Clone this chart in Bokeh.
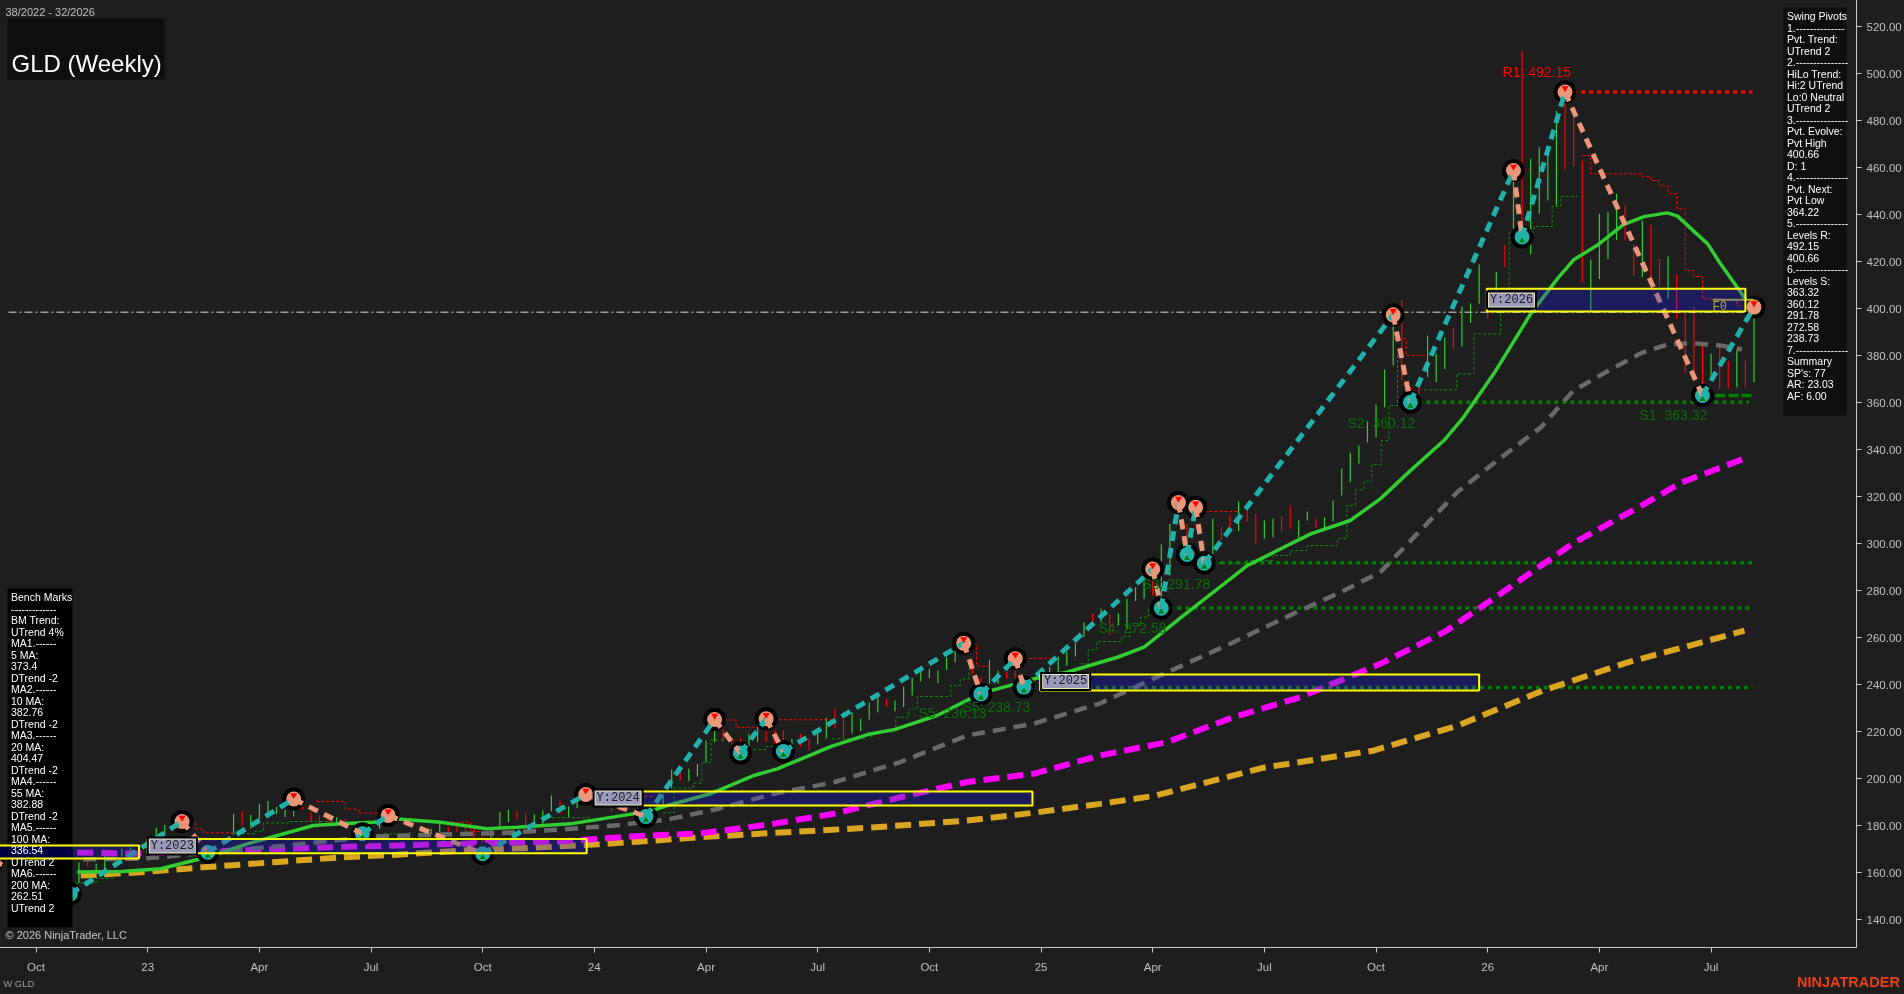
from bokeh.embed import file_html
from bokeh.models import FixedTicker, Label, LinearAxis, NumeralTickFormatter, Range1d
from bokeh.plotting import figure
from bokeh.resources import INLINE

# weekly bars, x is the week number counted from the Oct 2022 tick
up_week = [5, 7, 8, 10, 11, 12, 14, 15, 23, 25, 26, 27, 28, 29, 30, 35, 40, 46, 47, 53, 54, 55, 58, 59, 60, 62, 63,
           73, 74, 76, 77, 78, 79, 83, 84, 88, 91, 92, 95, 96, 97, 98, 100, 101, 102, 103, 104, 105, 106, 107,
           111, 112, 116, 117, 118, 119, 120, 121, 122, 124, 126, 127, 128, 129, 131, 132, 137, 140, 143, 144,
           147, 148, 150, 151, 152, 153, 154, 155, 156, 157, 158, 162, 163, 164, 166, 167, 168, 170, 172, 174,
           175, 176, 177, 181, 182, 183, 184, 187, 190, 195, 198, 200]
up_low = [155.5, 161.1, 158, 166.8, 167.5, 168.7, 175.7, 176.5, 176.2, 178.6, 182.8, 183.5, 185, 183.5, 183.8, 180, 178.6,
          176.5, 177.2, 174.3, 178.6, 181.4, 180, 180.7, 186, 183.5, 187.5,
          187.8, 195.9, 198.9, 200.8, 206.9, 215.5, 213.3, 215.5, 212.6, 214.5, 216.9, 219.3, 220.1, 225, 228.2,
          228.6, 230.4, 235.3, 241.4, 242.8, 240.6, 246.2, 249.5,
          240.3, 240.3, 237.4, 241.7, 244.5, 244.5, 248, 251.9, 260.2, 266.5, 265.1, 263.7, 275.5, 276.5, 274.3, 286.4,
          295.6, 305.2, 302, 302.7, 302.4, 309.8, 305.5, 309.5, 320.4, 326.1, 333.9, 343, 345.2, 358, 375.7,
          370.8, 368.6, 374.3, 383.8, 393.8, 402, 403.4, 433.9, 423, 440.3, 446, 443.8, 399, 412.6, 421.1, 429, 413.3,
          404.1, 369.4, 366.5, 368.6]
up_high = [164.4, 163.7, 167.9, 170.1, 170.6, 171.5, 179, 180.3, 185, 184.5, 189.2, 190.4, 188, 186.7, 186.4, 183.5, 182.1,
           178.6, 181, 179.3, 185.7, 186.7, 184.7, 186.4, 192.8, 188.1, 190.9,
           193.5, 203.7, 204.1, 206.2, 216.2, 220.4, 219, 222.5, 216.9, 221.1, 226, 228.2, 225.4, 232.5, 234.6,
           233.2, 239.1, 242.8, 246.7, 246.7, 246, 251.6, 254.5,
           250.5, 245.9, 241.7, 245.9, 247.4, 251.9, 253.8, 257.6, 266.5, 272.2, 270.3, 276.5, 281.4, 284.3, 299.6, 308.4,
           310.5, 317.9, 309.8, 310.5, 309.8, 313.6, 311.2, 318.3, 331.8, 338.6, 341.7, 352, 359.1, 373.9, 396.3,
           388.5, 380.7, 387.8, 400.8, 402.2, 418.7, 415.5, 457.3, 463.7, 468.6, 468.6, 484.2, 420.7, 440.3, 441, 448.8,
           437.4, 422.1, 380.7, 382.1, 397.7]

down_week = [6, 24, 31, 32, 33, 34, 36, 48, 49, 50, 51, 52, 56, 57, 61, 66, 67, 68, 71,
             75, 80, 81, 82, 85, 86, 87, 89, 90, 93, 94, 99, 109, 110, 113, 114, 115, 123, 125, 130, 134,
             138, 139, 141, 142, 145, 146, 149, 159, 160, 161, 165, 169, 171, 173, 178, 179, 180,
             185, 186, 188, 189, 191, 192, 193, 194, 196, 197, 199]
down_low = [162.6, 180, 186.7, 181.4, 180.7, 181, 180.7, 177.2, 177.2, 177.2, 172.9, 170.8, 182.4, 180, 185, 189.2, 185.7, 186.2, 182.8,
            199.1, 215.5, 214.7, 212.6, 215.7, 214.7, 214, 213.6, 211.9, 221.6, 217.3, 230.6, 244.5, 240.3, 242.4, 242.4, 237.4,
            265.1, 261.3, 277.9, 299.9,
            301.3, 305.8, 309.1, 299.9, 305.2, 306.2, 306.7, 369.4, 360, 363, 382.8, 395.6, 417.6, 434.6, 459, 460.4, 411.2,
            429, 414, 411.2, 409.8, 395.6, 372.2, 371.5, 366.5, 365.8, 365.8, 366.5]
down_high = [165.8, 186.1, 188, 185.7, 184.3, 183.5, 182.8, 179.6, 179.6, 179.3, 179, 175.3, 186.4, 185, 190.6, 191.3, 187.8, 188, 185,
             202.7, 221.1, 216.9, 217.2, 220.4, 220.4, 220.4, 219, 216.9, 229.6, 225.4, 233.9, 250.2, 243.1, 245.3, 246, 240.3,
             270.3, 270.1, 284.3, 308.4,
             307.2, 312.3, 313.8, 312.6, 311.5, 316.2, 310.5, 403.4, 366.5, 366.5, 391.8, 398.8, 427.2, 509.8, 492, 481.4, 463,
             443.8, 427.5, 435.7, 421.1, 414.5, 398.4, 400.6, 385, 383.5, 377.9, 377.9]

# swing pivots, alternating high and low
pivot_week = [-5, 4, 17, 20, 30, 38, 41, 52, 64, 71, 79, 82, 85, 87, 108, 110, 114, 115, 130, 131, 133, 134, 135, 136,
              158, 160, 172, 173, 178, 194, 200]
pivot_price = [165, 150.9, 181.7, 168.6, 191.3, 176.5, 184.3, 168, 193.2, 183.8, 225.1, 210.8, 225.4, 211.5, 257.6, 236,
               251, 238.9, 289.1, 272.5, 317.4, 295.3, 315.4, 291.6, 397.3, 360.1, 458.7, 430.4, 492.1, 363, 400.6]

# moving averages
ma20_week = [4.8, 10, 14.5, 20, 24.6, 32.3, 35.4, 39.3, 42.2, 47.1, 52.5, 56, 62.2, 68.4, 71.5, 73.5, 78.5, 83.6, 86.3, 90.5,
             92.5, 96.8, 100, 104.9, 110, 116.9, 120, 125.9, 129, 133.6, 138.3, 141, 144.5, 148.4, 153, 156.5, 160, 163.9,
             166.2, 169.7, 174, 177.1, 179, 181.7, 184.8, 187.2, 189.9, 191.1, 194.6, 196.1, 199]
ma20_value = [160.2, 160.4, 161.6, 166.6, 172.2, 180, 180.7, 181.4, 182.8, 181.4, 178.6, 179.3, 180.7, 184.3, 186.1, 188.5, 193.5,
              201.3, 204.1, 210.5, 213.6, 218.7, 220.9, 226.8, 236.2, 243.1, 245.2, 251.6, 255.9, 269.4, 282.8, 290.6, 297, 304.1,
              309.8, 319, 331, 343.8, 353.8, 372.2, 397.7, 412.6, 420.7, 426.8, 435.7, 439.1, 440.7, 439.3, 427.5, 419, 404.1]

ma55_week = [5.5, 12.5, 29.2, 34.7, 39.7, 47.1, 53.7, 60.7, 67.3, 70.8, 73.5, 79.3, 85.9, 92.9, 100.6, 108.4, 116.1, 123.9,
             131.7, 139.4, 147.2, 151.9, 156.5, 165.5, 170, 175.2, 179, 183.1, 186.8, 189.9, 193, 196.1, 198.6]
ma55_value = [165.6, 165.9, 171.5, 173.6, 175.3, 176.2, 176.7, 178.2, 180, 181.4, 182.5, 187, 193.5, 198.4, 207, 218.3, 223.3, 232,
              245.2, 258, 271.5, 279.3, 287.8, 322, 335, 349.5, 365.1, 373.6, 380.9, 384.7, 385.2, 384.3, 382.6]

ma100_week = [4.8, 11.8, 23.4, 34.6, 42, 51.7, 61.4, 69.2, 77.4, 85.1, 92.9, 100.6, 108.4, 116.1, 123.9, 131.7, 139.4, 147.2,
              156.5, 164, 171.2, 178.9, 186.7, 191.6, 198.9]
ma100_value = [168.5, 168, 169.4, 170.8, 171.5, 172.5, 173.3, 175.3, 176.7, 180.3, 185, 192, 198.5, 202, 209.8, 215.5, 226.1,
               234.6, 248.8, 262.5, 280.4, 300, 315.7, 326, 336.2]

ma200_week = [5.2, 12.2, 19.9, 27.7, 35, 42, 49.8, 57.6, 65.5, 70.4, 77.4, 85.1, 96.8, 108.4, 116.1, 123.9, 130.2, 142.9, 155.6,
              165.5, 175.4, 185.3, 198.9]
ma200_value = [158.7, 160.1, 162.3, 164.4, 166.3, 167.6, 169.4, 170.5, 172, 173.2, 175, 176.7, 179, 182.1, 185.4, 189.2, 192.6, 204.6,
               211.8, 222.5, 237.4, 249.4, 262.9]

# support and resistance levels
level_price = [492.15, 360.12, 291.78, 272.58, 238.73]
level_start = [178, 160, 136, 131, 115]
level_end = [199.8, 199.4, 199.8, 199.8, 199.8]
level_color = ["#FF0000", "#008000", "#008000", "#008000", "#008000"]

red_steps = [
    ([17.5, 18.6, 19.5, 23], [181.4, 178.6, 176.9, 176.9]),
    ([32.6, 36, 37.5, 40.5, 42], [190.3, 187, 185.3, 184, 184]),
    ([48.3, 50.6, 52], [181.4, 177.4, 177.4]),
    ([65, 72], [192.3, 192.3]),
    ([79.5, 81.5, 84], [224.9, 221.8, 221.8]),
    ([86.5, 93], [225, 225]),
    ([108, 109.5, 111], [257, 247.8, 247.8]),
    ([115, 119], [251.1, 251.1]),
    ([130, 132], [287.2, 287.2]),
    ([133, 135], [314.4, 314.4]),
    ([136, 140], [313.6, 313.6]),
    ([158, 159.5, 162], [387.1, 380, 380]),
    ([172, 174], [459, 459]),
    ([180, 181, 187, 188, 189, 190, 191, 192, 193, 194, 196, 198, 200],
     [465.1, 457.3, 456.2, 454.5, 452.2, 448.8, 442.4, 416.2, 413.6, 404.1, 403.5, 401.3, 399.9]),
]
green_steps = [
    ([4.6, 7, 9], [155.5, 157.5, 158.3]),
    ([22.8, 25.5, 26.5, 29.4, 34.6], [176.5, 177.6, 181.1, 181.7, 181.7]),
    ([40.5, 43.5], [176.5, 177.3]),
    ([59.5, 64.5], [183.3, 183.3]),
    ([73, 74.3, 76.5, 77.5, 78.6, 80], [185.4, 195.9, 198, 206.9, 216.4, 216.4]),
    ([83.5, 85, 87], [212.3, 213.6, 213.6]),
    ([92.7, 96.5, 97.5, 100.1, 101.6, 102.6, 105.7, 106.5, 107.6, 108.6],
     [216.9, 218, 219.7, 226.1, 229.6, 234.9, 234.9, 239.6, 242.4, 246.7]),
    ([121.6, 122.5, 123.5, 126.4, 127.4, 128.6, 129.5, 130.5], [248.8, 254.8, 258.3, 260.4, 265.1, 268.6, 272.2, 275.7]),
    ([137, 141, 144, 146, 148, 151.5, 152.6, 153.6, 154.6, 155.5, 156.6, 157.5, 158.5],
     [291.6, 292.8, 294.9, 297, 299.1, 302.1, 316.2, 322.9, 326.5, 333.6, 343.8, 358.7, 381]),
    ([161.6, 165.4, 167.4, 170.5, 171.5, 174.4, 176.5, 177.5, 179.4], [365.4, 372.2, 389.2, 398.4, 432.5, 434.9, 443.5, 447.7, 447.7]),
]

# yearly boxes
box_left = [-4.4, 13, 65, 116.9, 168.9]
box_right = [12, 64.1, 116, 168, 199]
box_bottom = [166, 168.2, 188.5, 237.4, 398.7]
box_top = [171.5, 174.3, 194.5, 244.3, 408.4]
year_text = ["Y:2023", "Y:2024", "Y:2025", "Y:2026"]
year_week = [12.9, 64.8, 116.9, 168.8]
year_price = [171.3, 191.7, 241.3, 403.6]

level_labels = ["R1: 492.15", "S1: 363.32", "S2: 360.12", "S3: 291.78", "S4: 272.58", "S5: 238.73", "S5: 236.13"]
level_label_x = [1502, 1639, 1347, 1142, 1098, 962, 918]
level_label_y = [71, 414, 422, 583, 627, 706, 712]

tick_week = [0, 13, 26, 39, 52, 65, 78, 91, 104, 117, 130, 143, 156, 169, 182, 195]
tick_text = ["Oct", "23", "Apr", "Jul", "Oct", "24", "Apr", "Jul", "Oct", "25", "Apr", "Jul", "Oct", "26", "Apr", "Jul"]
price_ticks = list(range(140, 521, 20))

bench_lines = ["Bench Marks", "-------------", "BM Trend:", "UTrend 4%", "MA1.------", "5 MA:", "373.4", "DTrend -2",
               "MA2.------", "10 MA:", "382.76", "DTrend -2", "MA3.------", "20 MA:", "404.47", "DTrend -2",
               "MA4.------", "55 MA:", "382.88", "DTrend -2", "MA5.------", "100 MA:", "336.54", "UTrend 2",
               "MA6.------", "200 MA:", "262.51", "UTrend 2"]
swing_lines = ["Swing Pivots", "1.--------------", "Pvt. Trend:", "UTrend 2", "2.---------------", "HiLo Trend:",
               "Hi:2 UTrend", "Lo:0 Neutral", "UTrend 2", "3.---------------", "Pvt. Evolve:", "Pvt High", "400.66",
               "D: 1", "4.---------------", "Pvt. Next:", "Pvt Low", "364.22", "5.---------------", "Levels R:",
               "492.15", "400.66", "6.---------------", "Levels S:", "363.32", "360.12", "291.78", "272.58", "238.73",
               "7.---------------", "Summary", "SP's: 77", "AR: 23.03", "AF: 6.00"]

BG = "#1E1E1E"
TEAL = "#20B2AA"
SALMON = "#E9967A"
FRAME_H = 947
X_PX = 8.59
Y_PX = 2.35


def wk(px):
    return (px - 35.5) / X_PX


def pr(py):
    return 520 - (py - 26) / Y_PX


# the frame starts one pixel off the page so its top and left edges do not show
p = figure(width=1905, height=995, output_backend="svg", toolbar_location=None, y_axis_location="right",
           x_range=Range1d(wk(-1), wk(1856)), y_range=Range1d(pr(947), pr(-1)),
           background_fill_color=BG, border_fill_color=BG, outline_line_color=None,
           min_border_left=0, min_border_top=0, min_border_right=48, min_border_bottom=47)
p.styles = {"position": "fixed", "left": "-1px", "top": "-1px"}
p.grid.visible = False

p.xaxis.ticker = FixedTicker(ticks=tick_week)
p.xaxis.major_label_overrides = dict(zip(tick_week, tick_text))
p.yaxis.ticker = FixedTicker(ticks=price_ticks)
p.yaxis.formatter = NumeralTickFormatter(format="0.00")
for ax in (p.xaxis[0], p.yaxis[0]):
    ax.axis_line_color = "#C8C8C8"
    ax.major_tick_line_color = "#C8C8C8"
    ax.major_tick_in = 0
    ax.major_tick_out = 5
    ax.minor_tick_line_color = None
    ax.major_label_text_color = "#C0C0C0"
    ax.major_label_text_font = "Liberation Sans"
    ax.major_label_text_font_size = "11.5px"
p.xaxis.major_label_standoff = 8
p.yaxis.major_label_standoff = 5


# texts under the chart sit on bare axes, annotations there get clipped
def foot_axis(week, text, size, color, style, standoff):
    ax = LinearAxis(ticker=FixedTicker(ticks=[week]), major_label_overrides={week: text})
    ax.axis_line_color = None
    ax.major_tick_line_color = None
    ax.minor_tick_line_color = None
    ax.major_tick_out = 0
    ax.major_tick_in = 0
    ax.major_label_standoff = standoff
    ax.major_label_text_color = color
    ax.major_label_text_font = "Liberation Sans"
    ax.major_label_text_font_size = size
    ax.major_label_text_font_style = style
    p.add_layout(ax, "below")


foot_axis(-2, "W GLD", "9.5px", "#A0A0A0", "normal", 2)
foot_axis(211, "NINJATRADER", "14.5px", "#E8401C", "bold", -18)

# box ground goes under everything
p.quad(left=box_left, right=box_right, bottom=box_bottom, top=box_top, fill_color="#000028", line_color=None)

p.segment(up_week, up_low, up_week, up_high, line_color="#32CD32", line_width=1.2)
p.segment(down_week, down_low, down_week, down_high, line_color="#FF0000", line_width=1.2)

for xs, ys in red_steps:
    p.step(xs, ys, mode="after", line_color="#FF0000", line_width=1, line_dash="3 2")
for xs, ys in green_steps:
    p.step(xs, ys, mode="after", line_color="#0E8A0E", line_width=1, line_dash="3 2")

p.line([wk(8), 200], [398.4, 398.4], line_color="#A0A0A0", line_width=1.5, line_dash="8 3 2 3")

for price, start, end, color in zip(level_price, level_start, level_end, level_color):
    p.line([start, end], [price, price], line_color=color, line_width=3.5, line_dash="4 4")
p.line([194, 199.8], [363, 363], line_color="#008000", line_width=3.5, line_dash="10 3")

p.line(ma200_week, ma200_value, line_color="#DAA520", line_width=6, line_dash="16 8")
p.line(ma100_week, ma100_value, line_color="#FF00FF", line_width=6, line_dash="16 8")
p.line(ma55_week, ma55_value, line_color="#696969", line_width=4.5, line_dash="13 8")
p.line(ma20_week, ma20_value, line_color="#32CD32", line_width=3.5)

high_week = pivot_week[0::2]
high_price = pivot_price[0::2]
low_week = pivot_week[1::2]
low_price = pivot_price[1::2]
p.scatter(pivot_week, pivot_price, size=23, fill_color="black", line_color=None)
p.scatter(high_week, high_price, size=15, fill_color=SALMON, line_color=None)
p.scatter(low_week, low_price, size=15, fill_color=TEAL, line_color=None)
p.scatter(high_week, [v + 1.6 for v in high_price], marker="inverted_triangle", size=7, fill_color="#FF0000", line_color=None)
p.scatter(low_week, [v - 1.6 for v in low_price], marker="triangle", size=6, fill_color="#008000", line_color=None)

for i in range(len(pivot_week) - 1):
    going_up = pivot_price[i + 1] > pivot_price[i]
    p.line(pivot_week[i:i + 2], pivot_price[i:i + 2], line_color=TEAL if going_up else SALMON,
           line_width=5, line_dash="10 7")

p.line([wk(1712), wk(1753)], [403.7, 403.7], line_color="#B8B82E", line_width=2)

# box tint over the lines
p.quad(left=box_left, right=box_right, bottom=box_bottom, top=box_top, fill_color="#4646AA", fill_alpha=0.4, line_color=None)

# info panels
p.quad(left=wk(7), right=wk(72), bottom=pr(927), top=pr(588), fill_color="black", line_color=None)
p.quad(left=wk(7), right=wk(164), bottom=pr(79), top=pr(18), fill_color="#0F0F0F", line_color=None)
p.quad(left=wk(1783), right=wk(1846), bottom=pr(415), top=pr(7), fill_color="#0F0F0F", line_color=None)
p.quad(left=box_left[0], right=wk(72), bottom=box_bottom[0], top=box_top[0], fill_color="#000040", line_color=None)

p.quad(left=box_left, right=box_right, bottom=box_bottom, top=box_top, fill_color=None, line_color="#FFFF00", line_width=2)

# year tags: black edge, pale edge, grey face
for week, price in zip(year_week, year_price):
    for inset, color in ((0, "black"), (2, "#E8E8C0"), (3, "#9A9ABC")):
        p.quad(left=week + inset / X_PX, right=week + (51 - inset) / X_PX,
               bottom=price - (9.5 - inset) / Y_PX, top=price + (9.5 - inset) / Y_PX,
               fill_color=color, line_color=None)


def put(text, px, py, size, color, align="left", font="Liberation Sans"):
    p.add_layout(Label(x=px + 1, y=FRAME_H - py, x_units="screen", y_units="screen", text=text, text_color=color,
                       text_font=font, text_font_size=size, text_align=align, text_baseline="middle"))


for week, price, text in zip(year_week, year_price, year_text):
    put(text, 35.5 + (week + 51 / X_PX / 2) * X_PX, 26 + (520 - price) * Y_PX, "12px", "#1A1A1A", "center", "Liberation Mono")

for text, px, py in zip(level_labels, level_label_x, level_label_y):
    put(text, px, py, "14px", "#FF0000" if text.startswith("R") else "#0B6B0B")

for n, text in enumerate(bench_lines):
    put(text, 10.5, 596.7 + n * 11.5, "10.5px", "white")
for n, text in enumerate(swing_lines):
    put(text, 1786.5, 15.7 + n * 11.5, "10.5px", "white")

put("38/2022 - 32/2026", 5, 11, "11px", "#C0C0C0")
put("GLD (Weekly)", 11, 63, "24px", "white")
put("\u00a9 2026 NinjaTrader, LLC", 5, 934, "11px", "#C8C8C8")
put("F0", 1712, 306, "12px", "#B0B030", font="Liberation Mono")

open("out.html", "w").write(file_html(p, INLINE))
